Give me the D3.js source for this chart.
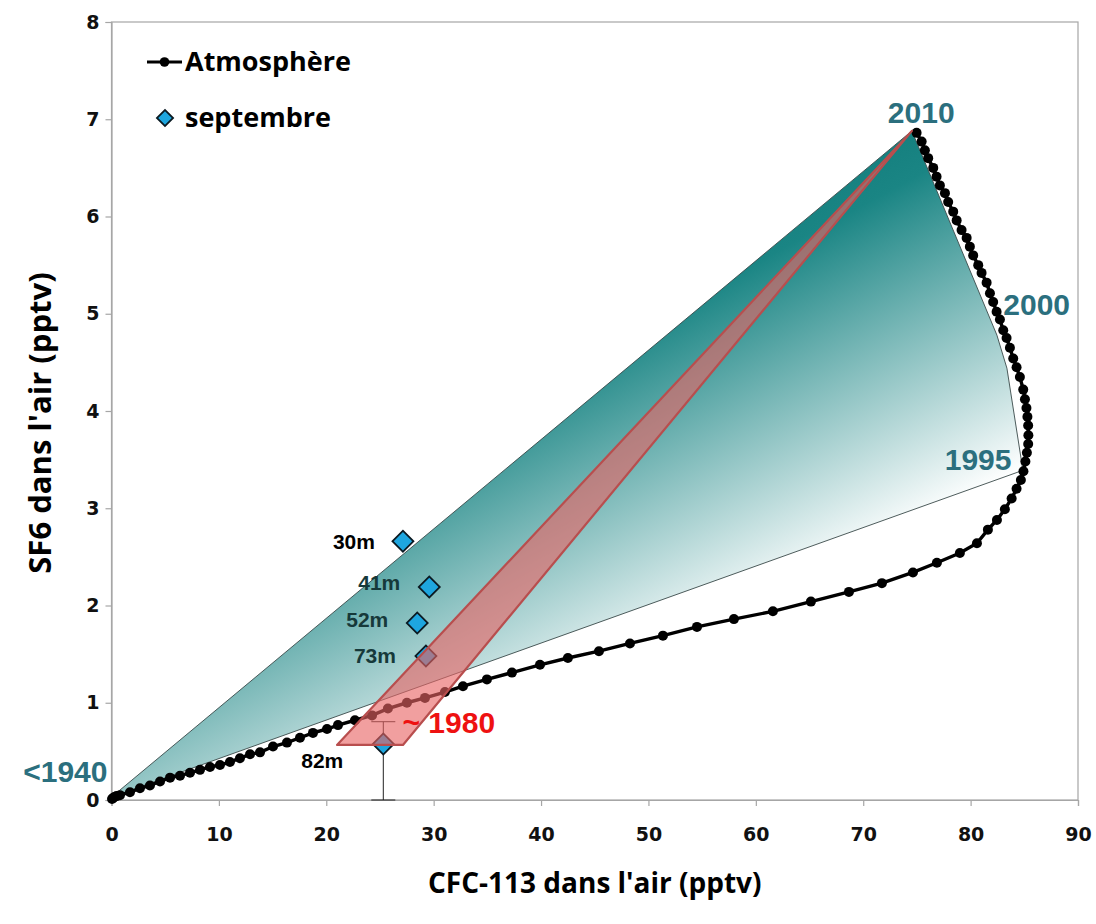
<!DOCTYPE html>
<html><head><meta charset="utf-8">
<script src="https://cdn.jsdelivr.net/npm/d3@7"></script>
<style>
html,body{margin:0;padding:0;background:#fff;}
</style></head><body>
<svg id="chart" width="1096" height="924"></svg>
<script>
// ---- data ----
const xTicks = [0,10,20,30,40,50,60,70,80,90];
const yTicks = [0,1,2,3,4,5,6,7,8];
// Atmosphere trajectory: CFC-113 (pptv), SF6 (pptv)
const atmCFC = [0.05,0.14,0.28,0.47,0.79,1.72,2.65,3.58,4.52,5.45,6.38,7.31,8.24,9.17,10.1,11.03,11.96,12.9,13.83,15.04,16.34,17.55,18.76,20.07,21.09,22.67,24.26,25.74,27.51,29.19,31.05,32.73,34.96,37.29,39.9,42.5,45.39,48.28,51.35,54.52,57.96,61.59,65.13,68.67,71.74,74.63,76.86,79.0,80.59,81.61,82.45,83.19,83.82,84.28,84.68,84.92,85.1,85.24,85.36,85.38,85.36,85.29,85.2,85.06,84.9,84.59,84.28,83.97,83.66,83.35,83.04,82.73,82.42,82.1,81.8,81.49,81.02,80.71,80.24,79.93,79.63,79.16,78.7,78.38,77.91,77.61,77.14,76.83,76.52,76.05,75.74,75.44,74.97];
const atmSF6 = [0.01,0.02,0.03,0.04,0.05,0.08,0.12,0.15,0.19,0.23,0.25,0.28,0.31,0.34,0.36,0.39,0.43,0.47,0.49,0.55,0.59,0.64,0.69,0.73,0.77,0.82,0.87,0.94,1.00,1.05,1.11,1.17,1.24,1.31,1.39,1.46,1.53,1.61,1.69,1.78,1.86,1.94,2.04,2.14,2.23,2.34,2.44,2.54,2.64,2.78,2.88,2.99,3.10,3.20,3.29,3.38,3.48,3.57,3.66,3.75,3.85,3.94,4.03,4.12,4.22,4.35,4.45,4.54,4.65,4.75,4.83,4.94,5.02,5.12,5.21,5.32,5.42,5.50,5.60,5.69,5.78,5.86,5.96,6.05,6.15,6.24,6.32,6.41,6.50,6.60,6.68,6.77,6.86];
// September firn samples
const depthLabels = ["30m","41m","52m","73m","82m"];
const sepCFC = [27.14,29.59,28.47,29.28,25.31];
const sepSF6 = [2.66,2.19,1.82,1.48,0.576];
const errLow = 0, errHigh = 0.805;   // error bar on 82m sample
// age fan (<1940 .. 2010, 2000, 1995)
const fanCFC = [0,74.53,82.45,83.38,84.87];
const fanSF6 = [0.03,6.88,4.78,4.44,3.39];
// ~1980 band
const bandCFC = [74.53,27.14,21.0];
const bandSF6 = [6.88,0.566,0.566];
// year annotations
const yearLabels = ["2010","2000","1995","<1940"];
const yearCFC = [75.4,86.15,80.7,-4.3];
const yearSF6 = [6.96,4.99,3.39,0.19];

// ---- setup ----
const svg = d3.select("#chart");
const m = {left:111.5, top:22, right:1078, bottom:800};
const x = d3.scaleLinear().domain([0,90]).range([m.left,m.right]);
const y = d3.scaleLinear().domain([0,8]).range([m.bottom,m.top]);

const defs = svg.append("defs");
const grad = defs.append("linearGradient").attr("id","fanGrad")
  .attr("gradientUnits","userSpaceOnUse")
  .attr("x1",x(74.5)).attr("y1",y(6.88))
  .attr("x2",x(90)).attr("y2",y(3.7));
grad.append("stop").attr("offset","0").attr("stop-color","#15807f");
grad.append("stop").attr("offset","0.12").attr("stop-color","#1a8584");
grad.append("stop").attr("offset","1").attr("stop-color","#ffffff");

// frame
svg.append("rect").attr("x",m.left).attr("y",m.top)
  .attr("width",m.right-m.left).attr("height",m.bottom-m.top)
  .attr("fill","none").attr("stroke","#a6a6a6").attr("stroke-width",1.2);

// axes
const xAxis = svg.append("g").attr("transform",`translate(0,${m.bottom})`)
  .call(d3.axisBottom(x).tickValues(xTicks).tickSize(6).tickPadding(22).tickFormat(d3.format("d")));
const yAxis = svg.append("g").attr("transform",`translate(${m.left},0)`)
  .call(d3.axisLeft(y).tickValues(yTicks).tickSize(6).tickPadding(6).tickFormat(d3.format("d")));
[xAxis,yAxis].forEach(g=>{
  g.attr("font-size",19).attr("font-family","DejaVu Sans");
  g.select(".domain").attr("stroke","#a6a6a6").attr("stroke-width",1.2);
  g.selectAll(".tick line").attr("stroke","#a6a6a6").attr("stroke-width",1.2);
  g.selectAll(".tick text").attr("font-family","DejaVu Sans").attr("font-weight","bold")
    .attr("font-size",19).attr("fill","#111");
});

// fan polygon
const fanPts = fanCFC.map((c,i)=>[x(c),y(fanSF6[i])]);
svg.append("path").attr("d",d3.line()(fanPts)+"Z")
  .attr("fill","url(#fanGrad)").attr("stroke","#3a4a4a").attr("stroke-width",0.9);

// atmosphere curve
const atm = atmCFC.map((c,i)=>[c,atmSF6[i]]);
svg.append("path").attr("d",d3.line().x(d=>x(d[0])).y(d=>y(d[1]))(atm))
  .attr("fill","none").attr("stroke","#000").attr("stroke-width",3.4);
svg.append("g").selectAll("circle").data(atm).join("circle")
  .attr("cx",d=>x(d[0])).attr("cy",d=>y(d[1])).attr("r",5).attr("fill","#000");

// error bar on last sample
const ebX = x(sepCFC[4]);
svg.append("line").attr("x1",ebX).attr("x2",ebX).attr("y1",y(errLow)).attr("y2",y(errHigh))
  .attr("stroke","#222").attr("stroke-width",1);
[errLow,errHigh].forEach(v=>svg.append("line").attr("x1",ebX-12).attr("x2",ebX+12)
  .attr("y1",y(v)).attr("y2",y(v)).attr("stroke","#222").attr("stroke-width",1));

// diamonds
svg.append("g").selectAll("path").data(sepCFC).join("path")
  .attr("d",d3.symbol().type(d3.symbolSquare).size(220))
  .attr("transform",(d,i)=>`translate(${x(d)},${y(sepSF6[i])}) rotate(45)`)
  .attr("fill","#1ea6df").attr("stroke","#0b1a22").attr("stroke-width",1.8);

// red band
const bandPts = bandCFC.map((c,i)=>[x(c),y(bandSF6[i])]);
svg.append("path").attr("d",d3.line()(bandPts)+"Z")
  .attr("fill","rgba(232,100,100,0.62)").attr("stroke","#b84e4e").attr("stroke-width",2.2)
  .attr("stroke-linejoin","round");

// depth labels
const depthColors = ["#000","#16393a","#16393a","#16393a","#000"];
const depthDx = [-28,-29,-29,-30,-40];
const depthDy = [0,-4,-3,0,17];
svg.append("g").selectAll("text").data(depthLabels).join("text")
  .attr("x",(d,i)=>x(sepCFC[i])+depthDx[i]).attr("y",(d,i)=>y(sepSF6[i])+depthDy[i])
  .attr("dy","0.35em").attr("text-anchor","end")
  .attr("font-family","Liberation Sans, Arial").attr("font-weight","bold").attr("font-size",21)
  .attr("fill",(d,i)=>depthColors[i]).text(d=>d);

// year labels
svg.append("g").selectAll("text").data(yearLabels).join("text")
  .attr("x",(d,i)=>x(yearCFC[i])).attr("y",(d,i)=>y(yearSF6[i]))
  .attr("text-anchor","middle")
  .attr("font-family","Liberation Sans, Arial").attr("font-weight","bold").attr("font-size",30)
  .attr("fill","#2b6f7e").text(d=>d);

// ~1980
svg.append("text").attr("x",x(27.1)).attr("y",y(0.69))
  .attr("font-family","Liberation Sans, Arial").attr("font-weight","bold").attr("font-size",30)
  .attr("fill","#ee1111").text("~ 1980");

// legend
const lg = svg.append("g");
lg.append("line").attr("x1",147).attr("x2",182).attr("y1",62).attr("y2",62)
  .attr("stroke","#000").attr("stroke-width",3);
lg.append("circle").attr("cx",164.5).attr("cy",62).attr("r",4.8).attr("fill","#000");
lg.append("text").attr("x",185).attr("y",71).attr("font-family","Open Sans")
  .attr("font-weight","bold").attr("font-size",27).attr("fill","#000").text("Atmosphère");
lg.append("path").attr("d",d3.symbol().type(d3.symbolSquare).size(130))
  .attr("transform","translate(165,118) rotate(45)")
  .attr("fill","#1ea6df").attr("stroke","#0b1a22").attr("stroke-width",1.8);
lg.append("text").attr("x",185).attr("y",127).attr("font-family","Open Sans")
  .attr("font-weight","bold").attr("font-size",27).attr("fill","#000").text("septembre");

// axis titles
svg.append("text").attr("x",(m.left+m.right)/2).attr("y",893).attr("text-anchor","middle")
  .attr("font-family","Open Sans").attr("font-weight","bold").attr("font-size",28)
  .attr("fill","#000").text("CFC-113 dans l'air (pptv)");
svg.append("text").attr("transform",`translate(51,${(m.top+m.bottom)/2+12}) rotate(-90)`)
  .attr("text-anchor","middle")
  .attr("font-family","Open Sans").attr("font-weight","bold").attr("font-size",31)
  .attr("fill","#000").text("SF6 dans l'air (pptv)");
</script>
</body></html>
